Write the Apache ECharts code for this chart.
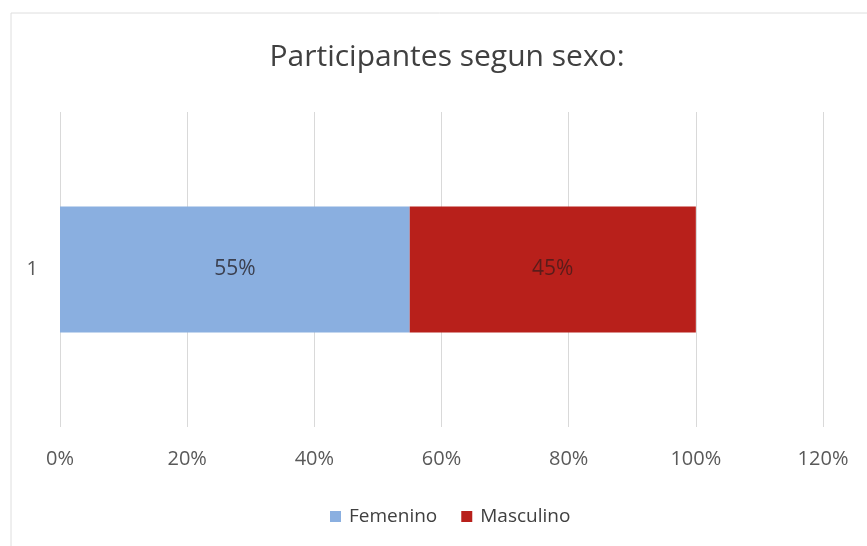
<!DOCTYPE html>
<html>
<head>
<meta charset="utf-8">
<script src="https://cdn.jsdelivr.net/npm/echarts@6/dist/echarts.min.js"></script>
<style>
  html, body { margin: 0; padding: 0; background: #fff; }
  #chart { width: 867px; height: 546px; }
</style>
</head>
<body>
<div id="chart"></div>
<script>
// datos
const categories = ['1'];
const femenino = [55];
const masculino = [45];
const seriesNames = ['Femenino', 'Masculino'];
const axisMin = 0;
const axisMax = 120;
const axisStep = 20;

const font = '"Open Sans", "Noto Sans", sans-serif';

const chart = echarts.init(document.getElementById('chart'));

const option = {
    backgroundColor: '#fff',
    textStyle: { fontFamily: font },
    title: {
        text: 'Participantes segun sexo:',
        left: 442,
        textAlign: 'center',
        top: 37,
        textStyle: { fontFamily: font, fontSize: 30, fontWeight: 'normal', color: '#404040' }
    },
    // borde del area del grafico
    graphic: [{
        type: 'rect',
        shape: { x: 11, y: 13, width: 900, height: 600 },
        style: { fill: 'none', stroke: '#dedede', lineWidth: 1 },
        silent: true,
        z: -1
    }],
    legend: {
        data: seriesNames,
        left: 325,
        top: 502,
        itemWidth: 11,
        itemHeight: 11,
        itemGap: 24,
        icon: 'rect',
        textStyle: { fontFamily: font, fontSize: 19, color: '#404040', padding: [0, 0, 0, 3] }
    },
    grid: { left: 60, right: 44, top: 112, bottom: 119, containLabel: false },
    xAxis: {
        type: 'value',
        min: axisMin,
        max: axisMax,
        interval: axisStep,
        axisLine: { show: false },
        axisTick: { show: false },
        splitLine: { show: true, lineStyle: { color: '#d9d9d9', width: 1 } },
        axisLabel: {
            formatter: '{value}%',
            fontFamily: font,
            fontSize: 20,
            color: '#595959',
            margin: 22
        }
    },
    yAxis: {
        type: 'category',
        data: categories,
        axisLine: { show: false },
        axisTick: { show: false },
        axisLabel: { fontFamily: font, fontSize: 20, color: '#595959', margin: 22 }
    },
    series: [
        {
            name: seriesNames[0],
            type: 'bar',
            stack: 'total',
            barWidth: '40%',
            data: femenino,
            itemStyle: { color: '#8aafe0' },
            label: {
                show: true,
                position: 'inside',
                formatter: '{c}%',
                fontFamily: font,
                fontSize: 21,
                color: '#3b4050'
            }
        },
        {
            name: seriesNames[1],
            type: 'bar',
            stack: 'total',
            data: masculino,
            itemStyle: { color: '#b8201b' },
            label: {
                show: true,
                position: 'inside',
                formatter: '{c}%',
                fontFamily: font,
                fontSize: 21,
                color: '#5a1c1a'
            }
        }
    ]
};

chart.setOption(option);
</script>
</body>
</html>
